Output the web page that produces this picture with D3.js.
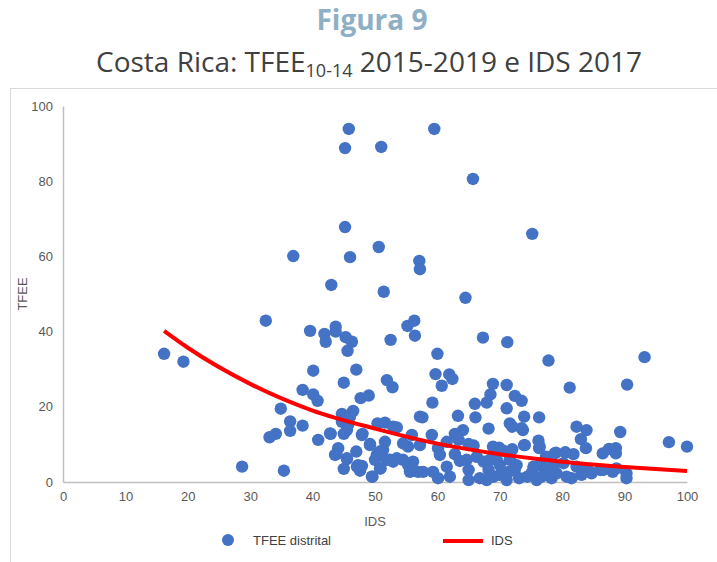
<!DOCTYPE html>
<html>
<head>
<meta charset="utf-8">
<script src="https://cdn.jsdelivr.net/npm/d3@7"></script>
<style>
  body { margin: 0; background: #fff; }
  svg { display: block; }
</style>
</head>
<body>
<svg id="chart" width="717" height="562"></svg>
<script>
// IDS (x) de cada distrito
const idsValues = [45.8,45.2,51.0,59.5,65.7,75.2,45.2,36.9,46.0,50.6,57.1,57.2,43.0,51.4,64.5,32.5,16.2,19.3,39.6,41.9,42.1,43.7,43.7,45.3,46.3,45.6,52.5,55.2,56.3,56.4,40.1,47.0,45.0,38.4,40.1,40.8,47.7,49.0,51.9,52.8,34.9,36.4,36.4,33.1,34.1,38.4,40.9,42.9,44.7,46.5,46.0,44.7,45.5,45.0,48.0,49.2,44.1,43.8,45.5,47.0,45.0,47.1,47.9,47.6,49.6,50.9,50.4,51.6,52.9,53.5,51.6,51.3,50.3,50.0,54.5,55.3,51.9,52.9,54.5,55.3,56.1,55.6,55.9,57.2,28.7,35.4,
  67.3,71.2,60.0,77.8,93.2,59.7,61.9,62.4,60.7,68.9,68.5,67.9,71.1,81.2,90.4,59.2,66.0,72.4,73.5,71.1,73.9,76.3,57.6,63.3,66.1,68.2,71.6,72.0,73.7,82.3,83.9,83.0,83.8,89.3,97.1,100.0,86.5,87.5,88.6,88.6,90.3,90.3,84.5,86.1,88.1,88.7,79.0,80.5,81.8,77.4,76.2,76.4,73.9,72.0,68.9,69.9,70.6,59.1,62.8,64.1,63.4,61.5,65.0,65.8,57.2,60.1,60.4,62.8,63.6,64.7,66.3,67.4,68.4,69.5,70.0,71.6,72.7,75.4,76.4,77.5,78.6,80.2,82.3,83.4,
  56.9,57.7,59.3,60.1,61.5,62.0,65.0,65.0,66.8,67.9,68.2,69.0,70.0,71.1,71.4,72.4,73.1,74.4,75.2,75.9,76.7,78.3,79.1,80.7,81.5,83.1,84.7,86.6,
  73.5,74.0,76.3,78.8,42.8,45.7,47.9,49.2,50.8,52.4,53.5,43.6,45.5,47.3,50.8,49.5];

// TFEE 10-14 de cada distrito (mesmo orden)
const tfeeValues = [93.9,88.8,89.1,93.9,80.6,66.0,67.8,60.1,59.8,62.5,58.8,56.6,52.4,50.6,49.0,42.9,34.1,32.0,40.2,39.4,37.3,41.3,40.0,38.5,37.3,34.9,37.8,41.5,42.9,38.9,29.6,29.9,26.4,24.5,23.3,21.6,22.3,23.0,27.1,25.2,19.5,16.1,13.6,11.9,12.8,15.0,11.2,12.8,18.1,18.9,17.4,16.0,13.8,12.8,12.8,10.1,9.0,7.4,6.1,8.1,3.5,4.1,4.3,3.0,1.4,3.6,15.6,15.8,14.7,14.5,10.7,8.5,7.2,5.9,10.3,9.4,5.9,5.4,5.9,4.5,5.4,2.7,12.5,17.4,4.1,3.0,
  38.4,37.2,34.1,32.3,33.2,28.7,28.6,27.4,25.6,26.1,23.3,21.1,25.8,25.1,25.9,21.1,20.8,22.9,21.6,19.6,17.4,17.2,17.2,17.6,17.2,14.2,15.6,14.7,13.8,14.7,13.8,11.4,9.0,13.3,10.6,9.4,7.6,8.8,9.0,7.6,2.3,1.0,2.7,3.2,2.7,3.6,7.8,7.9,7.4,6.7,11.0,9.4,9.8,8.7,9.4,9.1,8.3,12.5,12.8,13.8,11.2,10.7,10.1,9.7,9.8,9.0,7.2,7.4,5.6,5.9,6.7,5.4,5.9,5.9,4.5,5.9,4.5,4.1,4.5,3.6,4.5,5.0,4.1,3.6,
  2.7,2.7,2.7,1.0,4.1,1.4,3.2,0.5,1.0,0.5,3.2,1.4,1.9,0.5,2.7,3.2,1.0,1.4,2.7,0.5,1.4,1.0,2.3,1.4,1.0,1.9,2.3,3.2,
  14.3,9.8,9.0,7.6,12.9,15.2,12.5,9.8,8.1,5.9,6.3,7.2,6.3,4.5,3.6,1.4];

// Línea de tendencia
const trendIds = [16.2, 20, 30, 40, 50, 60, 70, 80, 90, 100];
const trendTfee = [40.2, 35.7, 26.1, 19.0, 14.2, 10.2, 7.4, 5.4, 4.0, 2.9];

const xTicks = [0, 10, 20, 30, 40, 50, 60, 70, 80, 90, 100];
const yTicks = [0, 20, 40, 60, 80, 100];

const svg = d3.select('#chart');

// marco del gráfico
svg.append('rect')
  .attr('x', 10.5).attr('y', 88.5)
  .attr('width', 760).attr('height', 520)
  .attr('fill', 'none')
  .attr('stroke', '#d9d9d9');

// títulos
svg.append('text')
  .attr('x', 372).attr('y', 30)
  .attr('text-anchor', 'middle')
  .attr('font-family', 'Open Sans, sans-serif')
  .attr('font-weight', 'bold')
  .attr('font-size', 28)
  .attr('fill', '#8eafc6')
  .text('Figura 9');

const sub = svg.append('text')
  .attr('x', 369).attr('y', 72)
  .attr('text-anchor', 'middle')
  .attr('font-family', 'Open Sans, sans-serif')
  .attr('font-size', 28)
  .attr('fill', '#404040');
sub.append('tspan').text('Costa Rica: TFEE');
sub.append('tspan').attr('font-size', 18).attr('dy', 5).text('10-14');
sub.append('tspan').attr('dy', -5).text(' 2015-2019 e IDS 2017');

const x = d3.scaleLinear().domain([0, 100]).range([63, 687]);
const y = d3.scaleLinear().domain([0, 100]).range([482, 106]);

// ejes
const xAxis = svg.append('g')
  .attr('transform', `translate(0,${y(0)})`)
  .call(d3.axisBottom(x).tickValues(xTicks).tickSize(0).tickPadding(10));
const yAxis = svg.append('g')
  .attr('transform', `translate(${x(0)},0)`)
  .call(d3.axisLeft(y).tickValues(yTicks).tickSize(0).tickPadding(10));

[xAxis, yAxis].forEach(a => {
  a.select('.domain').attr('stroke', '#bfbfbf').attr('stroke-width', 1.5);
  a.selectAll('text')
    .attr('font-family', 'Liberation Sans, Arial, sans-serif')
    .attr('font-size', 13)
    .attr('fill', '#595959');
});

svg.append('text')
  .attr('x', 375).attr('y', 526)
  .attr('text-anchor', 'middle')
  .attr('font-family', 'Liberation Sans, Arial, sans-serif')
  .attr('font-size', 13)
  .attr('fill', '#595959')
  .text('IDS');

svg.append('text')
  .attr('transform', 'translate(27,294) rotate(-90)')
  .attr('text-anchor', 'middle')
  .attr('font-family', 'Liberation Sans, Arial, sans-serif')
  .attr('font-size', 13)
  .attr('fill', '#595959')
  .text('TFEE');

// puntos
const points = idsValues.map((v, i) => ({ ids: v, tfee: tfeeValues[i] }));
svg.append('g')
  .selectAll('circle')
  .data(points)
  .enter()
  .append('circle')
  .attr('cx', d => x(d.ids))
  .attr('cy', d => y(d.tfee))
  .attr('r', 6.2)
  .attr('fill', '#4472c4');

// tendencia
const trend = trendIds.map((v, i) => ({ ids: v, tfee: trendTfee[i] }));
svg.append('path')
  .datum(trend)
  .attr('d', d3.line().x(d => x(d.ids)).y(d => y(d.tfee)).curve(d3.curveMonotoneX))
  .attr('fill', 'none')
  .attr('stroke', '#ff0000')
  .attr('stroke-width', 4);

// leyenda
svg.append('circle').attr('cx', 228).attr('cy', 540).attr('r', 6).attr('fill', '#4472c4');
svg.append('text')
  .attr('x', 253).attr('y', 545)
  .attr('font-family', 'Liberation Sans, Arial, sans-serif')
  .attr('font-size', 13)
  .attr('fill', '#404040')
  .text('TFEE distrital');
svg.append('line')
  .attr('x1', 443).attr('x2', 483).attr('y1', 541).attr('y2', 541)
  .attr('stroke', '#ff0000').attr('stroke-width', 4);
svg.append('text')
  .attr('x', 491).attr('y', 545)
  .attr('font-family', 'Liberation Sans, Arial, sans-serif')
  .attr('font-size', 13)
  .attr('fill', '#404040')
  .text('IDS');
</script>
</body>
</html>
